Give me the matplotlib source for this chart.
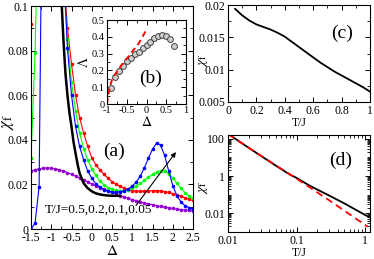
import numpy as np
import matplotlib
matplotlib.use("Agg")
import matplotlib.pyplot as plt
from matplotlib.ticker import MultipleLocator, FuncFormatter, LogLocator, NullFormatter, FixedLocator

plt.rcParams['font.family'] = ['Liberation Serif', 'DejaVu Serif']
plt.rcParams['mathtext.fontset'] = 'stix'
plt.rcParams['font.size'] = 8

# ---------------- panel (a) data ----------------
# T/J = 0 (black, thick)
delta_black = [-0.74, -0.7, -0.65, -0.6, -0.55, -0.5, -0.45, -0.4, -0.35, -0.3, -0.2, -0.1, 0.0, 0.1, 0.2, 0.3, 0.4, 0.5, 0.6, 0.7]
chi_black = [0.1, 0.085, 0.07, 0.06, 0.052, 0.046, 0.039, 0.034, 0.029, 0.025, 0.0205, 0.0183, 0.0169, 0.016, 0.0155, 0.0152, 0.015, 0.0149, 0.0149, 0.0149]

delta_grid = [-1.5, -1.4, -1.3, -1.2, -1.1, -1.0, -0.9, -0.8, -0.7, -0.6, -0.5, -0.4, -0.3, -0.2, -0.1,
              0.0, 0.1, 0.2, 0.3, 0.4, 0.5, 0.6, 0.7, 0.8, 0.9, 1.0, 1.1, 1.2, 1.3, 1.4, 1.5,
              1.6, 1.7, 1.8, 1.9, 2.0, 2.1, 2.2, 2.3, 2.4, 2.5]

# T/J = 0.5 (purple)
chi_purple = [0.026, 0.0266, 0.027, 0.0273, 0.0274, 0.0273, 0.027, 0.0265, 0.026, 0.0253, 0.0245, 0.0237, 0.0228, 0.022, 0.021,
              0.0202, 0.0194, 0.0186, 0.0178, 0.0171, 0.0164, 0.0157, 0.015, 0.0144, 0.0138, 0.0132, 0.0127, 0.0122, 0.0117, 0.0113, 0.0109,
              0.0105, 0.0101, 0.0098, 0.0095, 0.0092, 0.0089, 0.0087, 0.0085, 0.0083, 0.0081]

# T/J = 0.2 (red): left branch and right branch
delta_red_left = [-1.5, -1.4]
chi_red_left = [0.092, 0.16]
delta_red = [-0.7, -0.6, -0.5, -0.4, -0.3, -0.2, -0.1, 0.0, 0.1, 0.2, 0.3, 0.4, 0.5, 0.6, 0.7, 0.8, 0.9, 1.0,
             1.1, 1.2, 1.3, 1.4, 1.5, 1.6, 1.7, 1.8, 1.9, 2.0, 2.1, 2.2, 2.3, 2.4, 2.5]
chi_red = [0.115, 0.09, 0.074, 0.06, 0.05, 0.043, 0.037, 0.032, 0.0288, 0.0265, 0.0245, 0.0228, 0.0213, 0.0201, 0.0191, 0.0183, 0.0177, 0.0172,
           0.017, 0.0169, 0.017, 0.0171, 0.0172, 0.0172, 0.0171, 0.0168, 0.0164, 0.0158, 0.0152, 0.0146, 0.014, 0.0134, 0.0128]

# T/J = 0.1 (green)
delta_green_left = [-1.5, -1.4, -1.3]
chi_green_left = [0.032, 0.079, 0.16]
delta_green = [-0.7, -0.6, -0.5, -0.4, -0.3, -0.2, -0.1, 0.0, 0.1, 0.2, 0.3, 0.4, 0.5, 0.6, 0.7, 0.8, 0.9, 1.0,
               1.1, 1.2, 1.3, 1.4, 1.5, 1.6, 1.7, 1.8, 1.9, 2.0, 2.1, 2.2, 2.3, 2.4, 2.5]
chi_green = [0.11, 0.085, 0.066, 0.053, 0.043, 0.036, 0.031, 0.027, 0.024, 0.0215, 0.0198, 0.0186, 0.0178, 0.0173, 0.0171, 0.0172, 0.0176, 0.0183,
             0.0193, 0.0205, 0.0218, 0.0232, 0.0245, 0.0256, 0.0262, 0.026, 0.0248, 0.0228, 0.0205, 0.0183, 0.0163, 0.0148, 0.0137]

# T/J = 0.05 (blue)
delta_blue_left = [-1.5, -1.4, -1.3, -1.2]
chi_blue_left = [0.0, 0.0026, 0.019, 0.2]
delta_blue = [-0.7, -0.6, -0.5, -0.4, -0.3, -0.2, -0.1, 0.0, 0.1, 0.2, 0.3, 0.4, 0.5, 0.6, 0.7, 0.8, 0.9, 1.0,
              1.1, 1.2, 1.3, 1.4, 1.5, 1.6, 1.7, 1.8, 1.9, 2.0, 2.1, 2.2, 2.3, 2.4, 2.5]
chi_blue = [0.12, 0.081, 0.06, 0.046, 0.037, 0.031, 0.026, 0.0228, 0.0203, 0.0188, 0.0177, 0.017, 0.0166, 0.0165, 0.0167, 0.0172, 0.018, 0.0192,
            0.021, 0.0238, 0.0275, 0.0318, 0.0358, 0.0385, 0.0375, 0.033, 0.026, 0.0195, 0.015, 0.0122, 0.0105, 0.0096, 0.009]

# ---------------- panel (b) data ----------------
delta_b = [-0.9, -0.8, -0.7, -0.6, -0.5, -0.4, -0.3, -0.2, -0.1, 0.0, 0.1, 0.2, 0.3, 0.4, 0.5, 0.6, 0.7]
lam_b = [0.097, 0.159, 0.196, 0.229, 0.255, 0.275, 0.295, 0.312, 0.332, 0.352, 0.37, 0.39, 0.405, 0.41, 0.405, 0.385, 0.345]
delta_b_fit = [-1.0, -0.97, -0.93, -0.88, -0.8, -0.7, -0.6, -0.5, -0.4, -0.3, -0.2, -0.1, -0.01]
lam_b_fit = [0.0, 0.05, 0.1, 0.14, 0.175, 0.21, 0.24, 0.27, 0.3, 0.33, 0.36, 0.4, 0.44]

# ---------------- panel (c) data ----------------
T_c = [0.05, 0.1, 0.15, 0.2, 0.25, 0.3, 0.35, 0.4, 0.45, 0.5, 0.55, 0.6, 0.65, 0.7, 0.75, 0.8, 0.85, 0.9, 0.95, 1.0]
chi_c = [0.0194, 0.0184, 0.0176, 0.017, 0.0166, 0.0162, 0.0157, 0.0151, 0.0143, 0.0135, 0.0127, 0.0119, 0.0111, 0.0104, 0.0097, 0.0091, 0.0085, 0.0079, 0.0073, 0.0066]

# ---------------- panel (d) data ----------------
T_d = [0.0105, 0.02, 0.05, 0.08, 0.1, 0.15, 0.2, 0.3, 0.5, 0.7, 1.0, 1.18]
chi_d = [165, 33, 3.6, 1.2, 0.8, 0.33, 0.19, 0.09, 0.034, 0.017, 0.0082, 0.006]
T_d_fit = [0.01, 0.03, 0.1, 0.3, 1.0, 1.1]
chi_d_fit = [180, 12.5, 0.73, 0.05, 0.0024, 0.0019]

W, H = 374, 259
fig = plt.figure(figsize=(W / 100, H / 100), dpi=100)
TL = 8.5

def style(ax, ls=TL):
    ax.tick_params(which='both', direction='in', top=True, right=True, labelsize=ls, pad=2)
    ax.tick_params(which='major', length=3.5, width=0.7)
    ax.tick_params(which='minor', length=2, width=0.6)
    for s in ax.spines.values():
        s.set_linewidth(0.8)

fmt = FuncFormatter(lambda v, p: ('%g' % v))

# ---- (a)
axa = fig.add_axes([31 / W, 1 - 229 / H, 162 / W, 223 / H])
ms = 2.6
axa.plot(delta_grid, chi_purple, '-', color='#9400d3', lw=0.8, marker='o', ms=ms, mec='none')
axa.plot(delta_red_left, chi_red_left, '-', color='#ff0000', lw=0.8, marker='o', ms=ms, mec='none')
axa.plot(delta_red, chi_red, '-', color='#ff0000', lw=0.8, marker='o', ms=ms, mec='none')
axa.plot(delta_green_left, chi_green_left, '-', color='#00ff00', lw=0.8, marker='o', ms=ms, mec='none')
axa.plot(delta_green, chi_green, '-', color='#00ff00', lw=0.8, marker='o', ms=ms, mec='none')
axa.plot(delta_blue_left, chi_blue_left, '-', color='#0000ff', lw=0.8, marker='o', ms=ms, mec='none')
axa.plot(delta_blue, chi_blue, '-', color='#0000ff', lw=0.8, marker='o', ms=ms, mec='none')
axa.plot(delta_black, chi_black, '-', color='black', lw=1.8)
axa.set_xlim(-1.5, 2.5)
axa.set_ylim(0, 0.1)
axa.xaxis.set_major_locator(MultipleLocator(0.5))
axa.xaxis.set_minor_locator(MultipleLocator(0.25))
axa.yaxis.set_major_locator(MultipleLocator(0.02))
axa.yaxis.set_minor_locator(MultipleLocator(0.01))
axa.xaxis.set_major_formatter(fmt)
axa.yaxis.set_major_formatter(fmt)
style(axa)
axa.set_xlabel(r'$\Delta$', fontsize=11, labelpad=0)
axa.set_ylabel(r'$\chi_{\rm f}$', fontsize=12, labelpad=2)
axa.yaxis.set_label_coords(-0.095, 0.48)
axa.annotate('', xy=(2.12, 0.0355), xytext=(1.05, 0.0095),
             arrowprops=dict(arrowstyle='-|>', color='black', lw=0.8, mutation_scale=7))
axa.text(-1.17, 0.0085, 'T/J=0.5,0.2,0.1,0.05', fontsize=9.5, va='center', ha='left')
axa.text(0.55, 0.035, '(a)', fontsize=14, va='center', ha='center')

# ---- (b)
axb = fig.add_axes([107 / W, 1 - 104 / H, 79 / W, 84 / H])
axb.plot(delta_b, lam_b, 'o', ms=4.2, mfc='#d0d0d0', mec='#404040', mew=0.7)
axb.plot(delta_b_fit, lam_b_fit, '--', color='#ff0000', lw=1.4, dashes=(3, 2))
axb.set_xlim(-1, 1)
axb.set_ylim(0, 0.5)
axb.xaxis.set_major_locator(MultipleLocator(0.5))
axb.xaxis.set_minor_locator(MultipleLocator(0.25))
axb.yaxis.set_major_locator(MultipleLocator(0.1))
axb.yaxis.set_minor_locator(MultipleLocator(0.05))
axb.xaxis.set_major_formatter(fmt)
axb.yaxis.set_major_formatter(fmt)
style(axb, 7.5)
axb.tick_params(pad=1.5)
axb.set_xlabel(r'$\Delta$', fontsize=10, labelpad=0)
axb.set_ylabel(r'$\Lambda$', fontsize=10, labelpad=1)
axb.text(0.55, 0.3, '(b)', transform=axb.transAxes, fontsize=14, ha='center', va='center')

# ---- (c)
axc = fig.add_axes([228 / W, 1 - 102 / H, 142 / W, 97 / H])
axc.plot(T_c, chi_c, '-', color='black', lw=1.3)
axc.set_xlim(0, 1)
axc.set_ylim(0.005, 0.02)
axc.xaxis.set_major_locator(MultipleLocator(0.2))
axc.xaxis.set_minor_locator(MultipleLocator(0.1))
axc.yaxis.set_major_locator(MultipleLocator(0.005))
axc.yaxis.set_minor_locator(MultipleLocator(0.0025))
axc.xaxis.set_major_formatter(fmt)
axc.yaxis.set_major_formatter(fmt)
style(axc)
axc.set_xlabel('T/J', fontsize=8.5, labelpad=0)
axc.set_ylabel(r'$\chi_{\rm f}$', fontsize=10, labelpad=1)
axc.yaxis.set_label_coords(-0.13, 0.43)
axc.text(0.80, 0.71, '(c)', transform=axc.transAxes, fontsize=14, ha='center', va='center')

# ---- (d)
axd = fig.add_axes([228 / W, 1 - 232 / H, 142 / W, 97 / H])
axd.plot(T_d, chi_d, '-', color='black', lw=1.3)
axd.plot(T_d_fit, chi_d_fit, '--', color='#ff0000', lw=1.3, dashes=(4, 2.5))
axd.set_xscale('log')
axd.set_yscale('log')
axd.set_xlim(0.01, 1.18)
axd.set_ylim(1e-3, 1.6e2)
axd.xaxis.set_major_locator(FixedLocator([0.01, 0.1, 1]))
axd.xaxis.set_minor_locator(LogLocator(base=10, subs=np.arange(2, 10)))
axd.yaxis.set_major_locator(FixedLocator([0.01, 1, 100]))
axd.yaxis.set_minor_locator(LogLocator(base=10, subs=np.arange(1, 10), numticks=20))
axd.xaxis.set_major_formatter(fmt)
axd.yaxis.set_major_formatter(fmt)
axd.xaxis.set_minor_formatter(NullFormatter())
axd.yaxis.set_minor_formatter(NullFormatter())
style(axd)
axd.set_xlabel('T/J', fontsize=8.5, labelpad=0)
axd.set_ylabel(r'$\chi_{\rm f}$', fontsize=10, labelpad=1)
axd.yaxis.set_label_coords(-0.13, 0.46)
axd.text(0.79, 0.74, '(d)', transform=axd.transAxes, fontsize=14, ha='center', va='center')

fig.savefig('out.png', dpi=100)
